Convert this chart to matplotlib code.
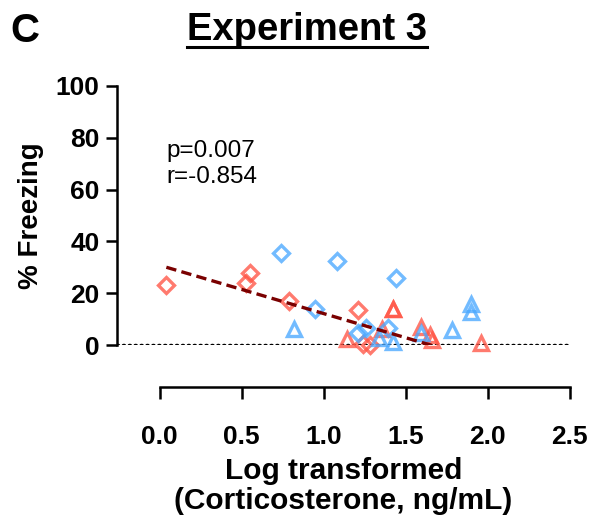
import matplotlib
matplotlib.use("Agg")
import matplotlib.pyplot as plt
from matplotlib.lines import Line2D
import numpy as np

plt.rcParams['font.family'] = ['Liberation Sans', 'DejaVu Sans']

# log corticosterone (x) vs % freezing (y)
red_diamond_x = [0.04, 0.524, 0.55, 0.79, 1.21, 1.24, 1.28]
red_diamond_y = [23.2, 24.0, 27.7, 17.2, 13.6, 0.4, 0.0]

red_tri_x = [1.14, 1.357, 1.42, 1.42, 1.595, 1.646, 1.657, 1.96]
red_tri_y = [2.5, 6.2, 14.0, 14.0, 7.2, 4.0, 2.0, 1.0]

blue_diamond_x = [0.74, 0.945, 1.08, 1.21, 1.256, 1.39, 1.44]
blue_diamond_y = [35.7, 14.0, 32.6, 4.6, 6.5, 6.5, 26.1]

blue_tri_x = [0.82, 1.337, 1.42, 1.595, 1.78, 1.90, 1.90]
blue_tri_y = [6.1, 2.7, 1.4, 4.6, 5.9, 15.9, 12.9]

fit_intercept = 30.8
fit_slope = -18.6
fit_x_start = 0.04

stats_text = "p=0.007\nr=-0.854"

x_ticks = [0.0, 0.5, 1.0, 1.5, 2.0, 2.5]
y_ticks = [0, 20, 40, 60, 80, 100]

red = '#FF5545'
blue = '#4AA8FF'

fig = plt.figure(figsize=(5.9, 5.23), dpi=100)
ax = fig.add_axes([0.198, 0.3398, 0.7678, 0.4964])

ax.plot(red_diamond_x, red_diamond_y, 'D', ms=8.5, mfc='none', mec=red, mew=2.4, alpha=0.78, clip_on=False, zorder=3)
ax.plot(red_tri_x, red_tri_y, '^', ms=10, mfc='none', mec=red, mew=2.4, alpha=0.78, clip_on=False, zorder=3)
ax.plot(blue_diamond_x, blue_diamond_y, 'D', ms=8.5, mfc='none', mec=blue, mew=2.4, alpha=0.78, clip_on=False, zorder=3)
ax.plot(blue_tri_x, blue_tri_y, '^', ms=10, mfc='none', mec=blue, mew=2.4, alpha=0.78, clip_on=False, zorder=3)

# regression line, clipped where it hits 0
x_end = -fit_intercept / fit_slope
xs = np.array([fit_x_start, x_end])
ax.plot(xs, fit_intercept + fit_slope * xs, color='#7A0000', lw=2.4, ls=(0, (3.1, 1.6)), zorder=4)

ax.axhline(0, color='black', lw=2.5, ls=(0, (0.3, 1.4)), dash_capstyle='round', zorder=2)

ax.text(0.04, 69.8, stats_text, fontsize=17.5, va='center', linespacing=1.2)

ax.set_xlim(-0.262, 2.5)
ax.set_ylim(0, 100)
ax.set_xticks(x_ticks)
ax.set_xticklabels([f"{v:.1f}" for v in x_ticks])
ax.set_yticks(y_ticks)

for s in ['top', 'right']:
    ax.spines[s].set_visible(False)
ax.spines['left'].set_linewidth(1.8)
ax.spines['bottom'].set_linewidth(1.8)
ax.spines['bottom'].set_position(('outward', 30))
ax.spines['bottom'].set_bounds(0, 2.5)

ax.tick_params(axis='y', length=8, width=1.8, pad=4.5, labelsize=19)
ax.tick_params(axis='x', length=8.5, width=1.8, pad=19, labelsize=19)
for lab in ax.get_xticklabels() + ax.get_yticklabels():
    lab.set_fontweight('bold')

ax.set_xlabel("Log transformed\n(Corticosterone, ng/mL)", fontsize=21.5, fontweight='bold', labelpad=6, linespacing=1.05)
ax.set_ylabel("% Freezing", fontsize=20, fontweight='bold', labelpad=8)

fig.text(10 / 590, 1 - 31 / 523, "C", fontsize=29, fontweight='bold', va='center', ha='left')
title = fig.text(307 / 590, 1 - 30 / 523, "Experiment 3", fontsize=27.5, fontweight='bold', va='center', ha='center')

# underline the title
fig.canvas.draw()
bb = title.get_window_extent().transformed(fig.transFigure.inverted())
uy = 1 - 47 / 523
fig.add_artist(Line2D([bb.x0, bb.x1], [uy, uy], color='black', lw=2.2, transform=fig.transFigure))

fig.savefig("out.png", dpi=100)
